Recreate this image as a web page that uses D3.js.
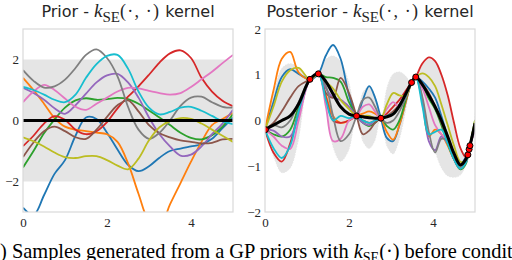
<!DOCTYPE html>
<html>
<head>
<meta charset="utf-8">
<script src="https://cdn.jsdelivr.net/npm/d3@7/dist/d3.min.js"></script>
<style>
  html, body { margin: 0; padding: 0; background: #fff; overflow: hidden; }
  svg { display: block; }
  text { white-space: pre; }
</style>
</head>
<body>
<script>
const palette = ["#1f77b4", "#ff7f0e", "#2ca02c", "#d62728", "#9467bd",
                 "#8c564b", "#e377c2", "#7f7f7f", "#bcbd22", "#17becf"];

// prior draws, all on one grid
const priorX = [0, 0.25, 0.5, 0.75, 1, 1.25, 1.5, 1.75, 2, 2.25, 2.5,
                2.75, 3, 3.25, 3.5, 3.75, 4, 4.25, 4.5, 4.75, 5];
const priorBlue   = [-2.86, -3.1, -2.45, -1.75, -1.3, -0.5, 0.1, 0.05, -0.4, -0.95, -1.45, -1.66, -1.5, -1.22, -1.0, -0.92, -0.85, -0.78, -0.6, -0.25, 0.1];
const priorOrange = [1.4, 1.0, 0.55, 0.08, -0.2, -0.3, -0.35, -0.4, -0.45, -0.7, -1.4, -2.4, -3.3, -3.5, -2.75, -2.05, -1.35, -0.7, -0.15, 0.05, 0.25];
const priorGreen  = [-1.54, -1.0, -0.42, 0.03, 0.42, 0.66, 0.73, 0.68, 0.7, 0.74, 0.7, 0.55, 0.33, 0.1, -0.15, -0.4, -0.57, -0.62, -0.48, -0.2, 0.2];
const priorRed    = [-0.84, -0.5, -0.1, 0.14, 0.02, -0.3, -0.45, -0.35, -0.05, 0.4, 0.78, 1.12, 1.5, 1.9, 2.2, 2.3, 2.05, 1.4, 0.95, 0.65, 0.47];
const priorPurple = [1.07, 0.9, 0.68, 0.4, 0.22, 0.5, 0.88, 1.25, 1.48, 1.53, 1.25, 0.75, 0.1, -0.45, -0.85, -1.15, -1.12, -0.85, -0.45, -0.1, 0.35];
const priorBrown  = [-1.2, -0.72, -0.35, -0.2, -0.35, -0.55, -0.6, -0.3, 0.12, 0.5, 0.66, 0.3, -0.15, -0.42, -0.55, -0.65, -0.7, -0.75, -0.73, -0.62, -0.6];
const priorPink   = [0.6, 0.95, 1.17, 1.0, 0.72, 0.45, 0.35, 0.55, 0.75, 0.95, 1.07, 1.05, 0.97, 0.9, 0.85, 0.9, 1.1, 1.35, 1.6, 1.88, 2.15];
const priorGrey   = [1.65, 1.3, 1.08, 1.12, 1.34, 1.72, 2.15, 2.33, 2.05, 1.45, 0.45, -0.3, -0.6, -0.4, 0.0, 0.48, 0.75, 0.78, 0.6, 0.45, 0.42];
const priorOlive  = [-0.55, -0.68, -0.85, -1.05, -1.2, -1.23, -1.17, -1.17, -1.3, -1.48, -1.6, -1.25, -0.65, -0.22, -0.02, 0.08, 0.05, -0.1, -0.3, -0.5, -0.7];
const priorCyan   = [1.1, 1.0, 0.85, 0.68, 0.6, 0.85, 1.4, 1.85, 2.12, 2.15, 1.7, 0.95, 0.42, 0.2, 0.28, 0.42, 0.45, 0.32, 0.15, -0.03, -0.12];
const priorSamples = [priorBlue, priorOrange, priorGreen, priorRed, priorPurple,
                      priorBrown, priorPink, priorGrey, priorOlive, priorCyan];
const priorMean = 0;
const priorBand = [-2, 2];

// posterior, all on one grid
const postX = [0, 0.2, 0.4, 0.6, 0.8, 1.07, 1.27, 1.45, 1.62, 1.8, 2.0, 2.18, 2.33, 2.48, 2.62, 2.76,
               2.9, 3.05, 3.2, 3.35, 3.49, 3.59, 3.75, 3.9, 4.05, 4.2, 4.35, 4.5, 4.65, 4.78, 4.87, 5.0];
const postMean  = [-0.2, -0.1, 0.0, 0.1, 0.36, 0.9, 1.02, 0.85, 0.58, 0.3, 0.14, 0.1, 0.08, 0.06, 0.05, 0.05,
                   0.08, 0.14, 0.32, 0.58, 0.83, 0.95, 0.78, 0.55, 0.3, 0.0, -0.35, -0.72, -0.97, -0.85, -0.58, -0.06];
const postUpper = [-0.2, 0.6, 1.15, 1.25, 1.16, 0.9, 1.02, 1.35, 1.42, 1.3, 0.85, 0.1, 0.63, 0.74, 0.55, 0.05,
                   0.73, 1.02, 1.07, 0.98, 0.83, 0.95, 1.23, 1.35, 1.3, 1.05, 0.57, -0.1, -0.65, -0.7, -0.58, 0.19];
const postLower = [-0.2, -0.8, -1.15, -1.05, -0.44, 0.9, 1.02, 0.3, -0.6, -0.9, -0.65, 0.1, -0.47, -0.62, -0.45, 0.05,
                   -0.57, -0.74, -0.43, 0.18, 0.83, 0.95, 0.33, -0.25, -0.7, -1.05, -1.22, -1.25, -1.2, -1.0, -0.58, -0.31];
const postBlue   = [-0.2, 0.4, 0.95, 1.12, 1.02, 0.9, 1.02, 1.42, 1.65, 1.35, 0.55, 0.1, 0.45, 0.75, 0.5, 0.05, -0.38, -0.45, -0.1, 0.4, 0.83, 0.95, 0.85, 0.7, 0.5, 0.1, -0.35, -0.72, -0.95, -0.8, -0.58, -0.1];
const postOrange = [-0.2, 0.65, 1.35, 1.5, 1.05, 0.9, 1.02, 0.55, 0.1, -0.05, 0.0, 0.1, 0.15, 0.2, 0.15, 0.05, -0.25, -0.42, -0.1, 0.4, 0.83, 0.95, 0.4, -0.35, -0.2, -0.3, -0.55, -0.85, -1.02, -0.9, -0.58, -0.05];
const postGreen  = [-0.2, -0.3, -0.35, -0.2, 0.3, 0.9, 1.02, 0.95, 0.93, 0.85, 0.4, 0.1, -0.05, -0.12, -0.05, 0.05, -0.12, -0.2, 0.0, 0.45, 0.83, 0.95, 0.75, 0.48, 0.25, -0.1, -0.5, -0.85, -1.07, -0.95, -0.58, 0.0];
const postRed    = [-0.2, -0.7, -0.9, -0.5, 0.2, 0.9, 1.02, 0.5, 0.0, -0.05, 0.0, 0.1, 0.0, -0.05, 0.0, 0.05, 0.15, 0.3, 0.45, 0.65, 0.83, 0.95, 1.25, 1.38, 1.3, 1.0, 0.55, -0.05, -0.6, -0.8, -0.58, -0.15];
const postPurple = [-0.2, -0.22, -0.35, -0.35, 0.1, 0.9, 1.02, 0.7, 0.5, 0.45, 0.3, 0.1, -0.05, -0.1, 0.0, 0.05, 0.1, 0.15, 0.35, 0.55, 0.83, 0.95, 0.45, -0.45, -0.65, -0.35, -0.5, -0.85, -1.05, -0.92, -0.58, -0.2];
const postBrown  = [-0.2, -0.05, 0.2, 0.5, 0.75, 0.9, 1.02, 0.6, 0.5, 0.93, 0.6, 0.1, -0.3, -0.22, -0.05, 0.05, 0.1, 0.2, 0.35, 0.55, 0.83, 0.95, 0.8, 0.6, 0.3, -0.05, -0.4, -0.75, -1.0, -0.9, -0.58, -0.05];
const postPink   = [-0.2, -0.35, -0.55, -0.62, 0.0, 0.9, 1.02, 0.3, -0.45, -0.4, 0.0, 0.1, 0.3, 0.35, 0.2, 0.05, 0.25, 0.4, 0.3, 0.5, 0.83, 0.95, 0.7, 0.3, -0.1, -0.3, -0.45, -0.75, -0.95, -0.9, -0.58, -0.15];
const postGrey   = [-0.2, -0.1, -0.15, 0.0, 0.4, 0.9, 1.02, 0.75, 0.1, -0.45, -0.3, 0.1, 0.45, 0.5, 0.3, 0.05, -0.05, 0.0, 0.2, 0.5, 0.83, 0.95, 0.5, -0.25, -0.7, -0.4, -0.45, -0.8, -1.0, -0.9, -0.58, -0.1];
const postOlive  = [-0.2, 0.3, 0.85, 1.1, 1.15, 0.9, 1.02, 0.85, 0.7, 0.45, 0.25, 0.1, 0.1, 0.1, 0.05, 0.05, 0.35, 0.6, 0.55, 0.55, 0.83, 0.95, 1.03, 0.95, 0.75, 0.35, -0.1, -0.55, -0.9, -0.88, -0.58, 0.0];
const postCyan   = [-0.2, -0.6, -0.82, -0.55, 0.2, 0.9, 1.02, 0.45, 0.0, 0.1, 0.05, 0.1, 0.0, -0.05, 0.0, 0.05, 0.1, 0.15, 0.3, 0.55, 0.83, 0.95, 0.3, -0.3, -0.25, -0.2, -0.5, -0.85, -1.05, -0.92, -0.58, -0.1];
const postSamples = [postBlue, postOrange, postGreen, postRed, postPurple,
                     postBrown, postPink, postGrey, postOlive, postCyan];

// observations
const obsX = [0.01, 1.07, 1.27, 2.18, 2.76, 3.49, 3.59, 4.83, 4.86, 4.88];
const obsY = [-0.2, 0.9, 1.02, 0.1, 0.05, 0.83, 0.95, -0.75, -0.63, -0.55];

const xTicks = [0, 2, 4];
const priorYTicks = [-2, 0, 2];
const postYTicks = [-2, -1, 0, 1, 2];

const serif = "Liberation Serif";
const sans = "DejaVu Sans";
const ink = "#262626";
const fmt = v => (v < 0 ? "\u2212" + Math.abs(v) : String(v));

const svg = d3.select("body").append("svg").attr("width", 512).attr("height", 260);
const defs = svg.append("defs");

const makePanel = function (left, right, yDomain, clipId, yPad) {
    const x = d3.scaleLinear().domain([0, 5]).range([left, right]);
    const y = d3.scaleLinear().domain(yDomain).range([212, 29]);
    defs.append("clipPath").attr("id", clipId).append("rect")
        .attr("x", left).attr("y", 29).attr("width", right - left).attr("height", 183);
    const g = svg.append("g");
    const plot = g.append("g").attr("clip-path", "url(#" + clipId + ")");
    return { x, y, g, plot, left, right, yPad };
};

const finishPanel = function (p, yTicks) {
    p.g.append("rect")
        .attr("x", p.left).attr("y", 29).attr("width", p.right - p.left).attr("height", 183)
        .attr("fill", "none").attr("stroke", "#d9d9d9").attr("stroke-width", 1.2);
    const ax = p.g.append("g").attr("transform", "translate(0,212)")
        .call(d3.axisBottom(p.x).tickValues(xTicks).tickSize(0).tickPadding(6).tickFormat(fmt));
    const ay = p.g.append("g").attr("transform", "translate(" + p.left + ",0)")
        .call(d3.axisLeft(p.y).tickValues(yTicks).tickSize(0).tickPadding(p.yPad).tickFormat(fmt));
    [ax, ay].forEach(a => {
        a.select(".domain").remove();
        a.attr("font-family", serif).attr("font-size", 13);
        a.selectAll("text").attr("fill", ink);
    });
};

const mathTitle = function (cx, pre) {
    const t = svg.append("text").attr("x", cx).attr("y", 17)
        .attr("text-anchor", "middle").attr("fill", ink).attr("font-size", 16);
    t.append("tspan").attr("font-family", sans).text(pre);
    t.append("tspan").attr("font-family", serif).attr("font-style", "italic").attr("font-size", 19).text("k");
    t.append("tspan").attr("font-family", serif).attr("font-size", 15).attr("dy", 5).text("SE");
    t.append("tspan").attr("font-family", serif).attr("font-size", 18).attr("dy", -5)
        .attr("letter-spacing", 1.2).text("(\u00b7, \u00b7)");
    t.append("tspan").attr("font-family", sans).text(" kernel");
};

// ---- prior panel
const pr = makePanel(23, 233, [-3, 3], "clipPrior", 4);
const priorLine = d3.line()
    .x((d, i) => pr.x(priorX[i]))
    .y(d => pr.y(d))
    .curve(d3.curveCatmullRom.alpha(0.5));

pr.plot.append("rect")
    .attr("x", pr.left).attr("width", pr.right - pr.left)
    .attr("y", pr.y(priorBand[1])).attr("height", pr.y(priorBand[0]) - pr.y(priorBand[1]))
    .attr("fill", "#e5e5e5");

pr.plot.selectAll(".sample").data(priorSamples).enter().append("path")
    .attr("d", priorLine)
    .attr("fill", "none")
    .attr("stroke", (d, i) => palette[i])
    .attr("stroke-width", 1.8);

pr.plot.append("line")
    .attr("x1", pr.left).attr("x2", pr.right)
    .attr("y1", pr.y(priorMean)).attr("y2", pr.y(priorMean))
    .attr("stroke", "#000").attr("stroke-width", 3);

finishPanel(pr, priorYTicks);
mathTitle((pr.left + pr.right) / 2, "Prior - ");

// ---- posterior panel
const po = makePanel(265, 475, [-2, 2], "clipPost", 4);
const curve = d3.curveCatmullRom.alpha(0.5);
const postLine = d3.line()
    .x((d, i) => po.x(postX[i]))
    .y(d => po.y(d))
    .curve(curve);
const band = d3.area()
    .x((d, i) => po.x(postX[i]))
    .y0((d, i) => po.y(postLower[i]))
    .y1((d, i) => po.y(postUpper[i]))
    .curve(curve);

po.plot.append("path").attr("d", band(postX)).attr("fill", "#e5e5e5");
[postUpper, postLower].forEach(edge => {
    po.plot.append("path").attr("d", postLine(edge))
        .attr("fill", "none").attr("stroke", "#fff")
        .attr("stroke-width", 1).attr("stroke-dasharray", "1.2,1.6");
});

po.plot.selectAll(".sample").data(postSamples).enter().append("path")
    .attr("d", postLine)
    .attr("fill", "none")
    .attr("stroke", (d, i) => palette[i])
    .attr("stroke-width", 1.8);

po.plot.append("path").attr("d", postLine(postMean))
    .attr("fill", "none").attr("stroke", "#000").attr("stroke-width", 3);

po.plot.selectAll(".obs").data(obsX).enter().append("circle")
    .attr("cx", d => po.x(d))
    .attr("cy", (d, i) => po.y(obsY[i]))
    .attr("r", 3)
    .attr("fill", "#ff0000").attr("stroke", "#000").attr("stroke-width", 1);

finishPanel(po, postYTicks);
mathTitle((po.left + po.right) / 2, "Posterior - ");

// ---- caption, cut by the left and right edges as in the source figure
const cap = svg.append("text").attr("y", 258)
    .attr("font-family", serif).attr("font-size", 20.4).attr("fill", "#000");
cap.append("tspan").attr("class", "lead").text("(a");
cap.append("tspan").text(") Samples generated from a GP priors with ");
cap.append("tspan").attr("font-style", "italic").text("k");
cap.append("tspan").attr("font-size", 14).attr("dy", 4).text("SE");
cap.append("tspan").attr("dy", -4).text("(\u00b7) before conditioning");
const lead = cap.select(".lead").node().getComputedTextLength();
cap.attr("x", -lead);
</script>
</body>
</html>
